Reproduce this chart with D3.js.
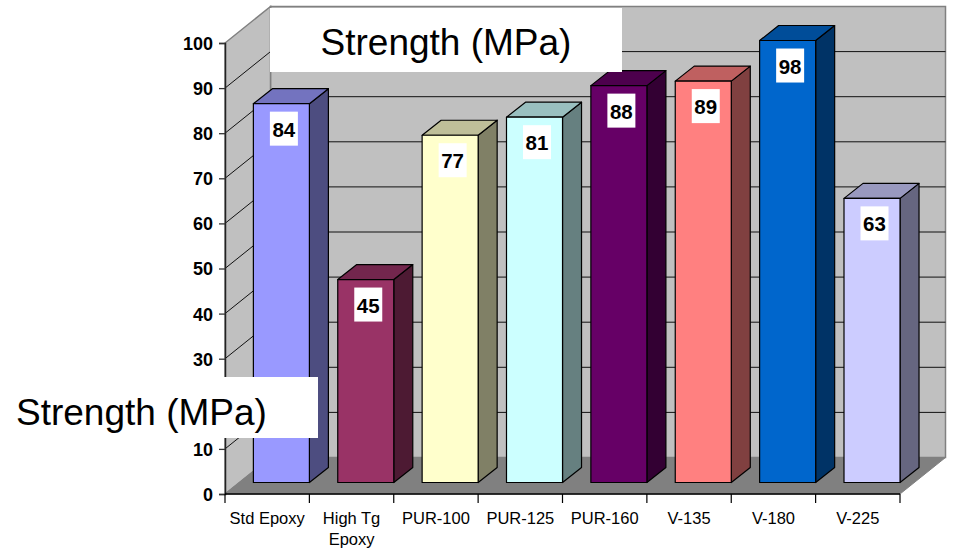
<!DOCTYPE html>
<html><head><meta charset="utf-8">
<script src="https://cdn.jsdelivr.net/npm/d3@7"></script>
<style>html,body{margin:0;padding:0;background:#fff;}svg{display:block;font-family:"Liberation Sans",Arial,sans-serif;}</style>
</head><body><svg id="c" width="953" height="549"></svg>
<script>
const categories = ["Std Epoxy", "High Tg\nEpoxy", "PUR-100", "PUR-125", "PUR-160", "V-135", "V-180", "V-225"];
const values = [84, 45, 77, 81, 88, 89, 98, 63];
const barColors = ["#9999ff", "#993366", "#ffffcc", "#ccffff", "#660066", "#ff8080", "#0066cc", "#ccccff"];
const yTicks = [0, 10, 20, 30, 40, 50, 60, 70, 80, 90, 100];
const chartTitle = "Strength (MPa)";
const yTitle = "Strength (MPa)";

const svg = d3.select("#c");
const x0 = 225, x1 = 900;
const depthX = 45.5, depthY = -36.5;
const barOffX = 14.2, barOffY = -11.5, barDX = 19, barDY = -15;

const x = d3.scaleBand().domain(categories).range([x0, x1]).paddingInner(0.336).paddingOuter(0.168);
const xc = d3.scaleBand().domain(categories).range([x0, x1]).padding(0);
const y = d3.scaleLinear().domain([0, 100]).range([494, 43]);

const shade = (c, k) => { const r = d3.rgb(c); return d3.rgb(r.r * k, r.g * k, r.b * k).formatHex(); };
const pts = a => a.map(p => p.join(",")).join(" ");

// back wall
const yTop = y(100), yBot = y(0);
svg.append("polygon").attr("points", pts([[x0 + depthX, yTop + depthY], [x1 + depthX, yTop + depthY], [x1 + depthX, yBot + depthY], [x0 + depthX, yBot + depthY]]))
  .attr("fill", "#c0c0c0").attr("stroke", "#808080").attr("stroke-width", 1.5);
// left wall
svg.append("polygon").attr("points", pts([[x0, yBot], [x0, yTop], [x0 + depthX, yTop + depthY], [x0 + depthX, yBot + depthY]]))
  .attr("fill", "#c0c0c0").attr("stroke", "#808080").attr("stroke-width", 1.5);
// gridlines
yTicks.filter(v => v > 0 && v < 100).forEach(v => {
  svg.append("line").attr("x1", x0 + depthX).attr("x2", x1 + depthX).attr("y1", y(v) + depthY).attr("y2", y(v) + depthY)
    .attr("stroke", "#111").attr("stroke-width", 1);
  svg.append("line").attr("x1", x0).attr("x2", x0 + depthX).attr("y1", y(v)).attr("y2", y(v) + depthY)
    .attr("stroke", "#111").attr("stroke-width", 1);
});
// floor
svg.append("polygon").attr("points", pts([[x0, yBot], [x1, yBot], [x1 + depthX, yBot + depthY], [x0 + depthX, yBot + depthY]]))
  .attr("fill", "#808080").attr("stroke", "#808080").attr("stroke-width", 1);

// bars
categories.forEach((c, i) => {
  const v = values[i];
  const bx0 = x(c) + barOffX, bx1 = x(c) + x.bandwidth() + barOffX;
  const bt = y(v) + barOffY, bb = y(0) + barOffY;
  const g = svg.append("g").attr("stroke", "#000").attr("stroke-width", 1.2).attr("stroke-linejoin", "round");
  g.append("polygon").attr("points", pts([[bx1, bt], [bx1 + barDX, bt + barDY], [bx1 + barDX, bb + barDY], [bx1, bb]])).attr("fill", shade(barColors[i], 0.5));
  g.append("polygon").attr("points", pts([[bx0, bt], [bx1, bt], [bx1 + barDX, bt + barDY], [bx0 + barDX, bt + barDY]])).attr("fill", shade(barColors[i], 0.75));
  g.append("rect").attr("x", bx0).attr("y", bt).attr("width", bx1 - bx0).attr("height", bb - bt).attr("fill", barColors[i]);
  // value label
  const cx = (bx0 + bx1) / 2 + 2.5;
  svg.append("rect").attr("x", cx - 14).attr("y", bt + 8).attr("width", 28).attr("height", 34).attr("fill", "#fff");
  svg.append("text").attr("x", cx).attr("y", bt + 33).attr("text-anchor", "middle")
    .attr("font-size", 20.5).attr("font-weight", "bold").attr("fill", "#000").text(v);
});

// y axis
const yAxis = d3.axisLeft(y).tickValues(yTicks).tickSize(6).tickPadding(6);
const ya = svg.append("g").attr("transform", `translate(${x0},0)`).call(yAxis);
ya.select(".domain").attr("stroke", "#222").attr("stroke-width", 1.5);
ya.selectAll(".tick line").attr("stroke", "#333").attr("stroke-width", 1.3);
ya.selectAll(".tick text").attr("font-size", 18).attr("font-weight", "bold").attr("fill", "#000")
  .attr("font-family", '"Liberation Sans",Arial,sans-serif').attr("dy", "0.36em");

// x axis
const xa = svg.append("g").attr("transform", `translate(0,${yBot})`);
xa.append("line").attr("x1", x0).attr("x2", x1).attr("stroke", "#000").attr("stroke-width", 1.5);
const bounds = categories.map(c => xc(c)).concat([x1]);
bounds.forEach(b => xa.append("line").attr("x1", b).attr("x2", b).attr("y1", 0).attr("y2", 9).attr("stroke", "#000").attr("stroke-width", 1.2));
categories.forEach(c => {
  const t = xa.append("text").attr("x", xc(c) + xc.bandwidth() / 2).attr("y", 30).attr("text-anchor", "middle")
    .attr("font-size", 16.5).attr("fill", "#000");
  c.split("\n").forEach((line, k) => t.append("tspan").attr("x", xc(c) + xc.bandwidth() / 2).attr("dy", k === 0 ? 0 : 21).text(line));
});

// titles
svg.append("rect").attr("x", 270).attr("y", 8).attr("width", 352).attr("height", 64).attr("fill", "#fff");
svg.append("text").attr("x", 446).attr("y", 55).attr("text-anchor", "middle").attr("font-size", 37).attr("fill", "#000").text(chartTitle);
svg.append("rect").attr("x", 0).attr("y", 377).attr("width", 318).attr("height", 61).attr("fill", "#fff");
svg.append("text").attr("x", 16).attr("y", 425).attr("font-size", 37).attr("fill", "#000").text(yTitle);
</script>
</body></html>
